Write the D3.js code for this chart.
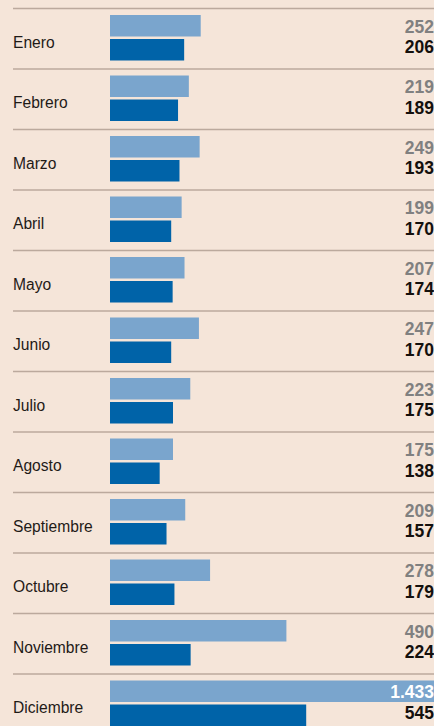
<!DOCTYPE html>
<html>
<head>
<meta charset="utf-8">
<script src="https://cdn.jsdelivr.net/npm/d3@7"></script>
<style>
  html, body { margin: 0; padding: 0; background: #f5e5d9; }
  svg { display: block; }
</style>
</head>
<body>
<div id="chart"></div>
<script>
// months and the two series (light = previous, dark = current)
const months = ["Enero", "Febrero", "Marzo", "Abril", "Mayo", "Junio", "Julio",
                "Agosto", "Septiembre", "Octubre", "Noviembre", "Diciembre"];
const lightValues = [252, 219, 249, 199, 207, 247, 223, 175, 209, 278, 490, 1433];
const darkValues  = [206, 189, 193, 170, 174, 170, 175, 138, 157, 179, 224, 545];

const width = 434;
const height = 726;
const pitch = 60.5;
const startY = 8.5;

const fmt = d3.formatLocale({ decimal: ",", thousands: ".", grouping: [3], currency: ["", "€"] }).format(",d");

const svg = d3.select("#chart")
  .append("svg")
  .attr("width", width)
  .attr("height", height);

svg.append("rect")
  .attr("width", width)
  .attr("height", height)
  .attr("fill", "#f5e5d9");

const x = d3.scaleLinear()
  .domain([0, 900])
  .range([110, 434]);

const y = d3.scaleBand()
  .domain(months)
  .range([startY, startY + pitch * months.length]);

const rows = svg.selectAll("g.row")
  .data(months)
  .enter()
  .append("g")
  .attr("class", "row")
  .attr("transform", d => `translate(0, ${y(d)})`);

// separator line at top of every row
rows.append("line")
  .attr("x1", 13)
  .attr("x2", width)
  .attr("y1", 0)
  .attr("y2", 0)
  .attr("stroke", "#bba99d")
  .attr("stroke-width", 1.5);

rows.append("text")
  .attr("x", 13)
  .attr("y", 39)
  .attr("font-family", "'Liberation Sans', Arial, sans-serif")
  .attr("font-size", "15.6px")
  .attr("fill", "#1f1a17")
  .text(d => d);

const barH = 21.5;

rows.append("rect")
  .attr("x", x(0))
  .attr("y", 6.5)
  .attr("height", barH)
  .attr("width", (d, i) => Math.min(x(lightValues[i]), width) - x(0))
  .attr("fill", "#7aa5cd");

rows.append("rect")
  .attr("x", x(0))
  .attr("y", 30.5)
  .attr("height", barH)
  .attr("width", (d, i) => Math.min(x(darkValues[i]), width) - x(0))
  .attr("fill", "#0063a8");

// value labels, right aligned
rows.append("text")
  .attr("x", width)
  .attr("y", 24.2)
  .attr("text-anchor", "end")
  .attr("font-family", "'Liberation Sans', Arial, sans-serif")
  .attr("font-weight", "bold")
  .attr("font-size", "17.5px")
  .attr("fill", (d, i) => x(lightValues[i]) >= width ? "#ffffff" : "#808080")
  .text((d, i) => fmt(lightValues[i]));

rows.append("text")
  .attr("x", width)
  .attr("y", 44.8)
  .attr("text-anchor", "end")
  .attr("font-family", "'Liberation Sans', Arial, sans-serif")
  .attr("font-weight", "bold")
  .attr("font-size", "17.5px")
  .attr("fill", "#14100d")
  .text((d, i) => fmt(darkValues[i]));
</script>
</body>
</html>
